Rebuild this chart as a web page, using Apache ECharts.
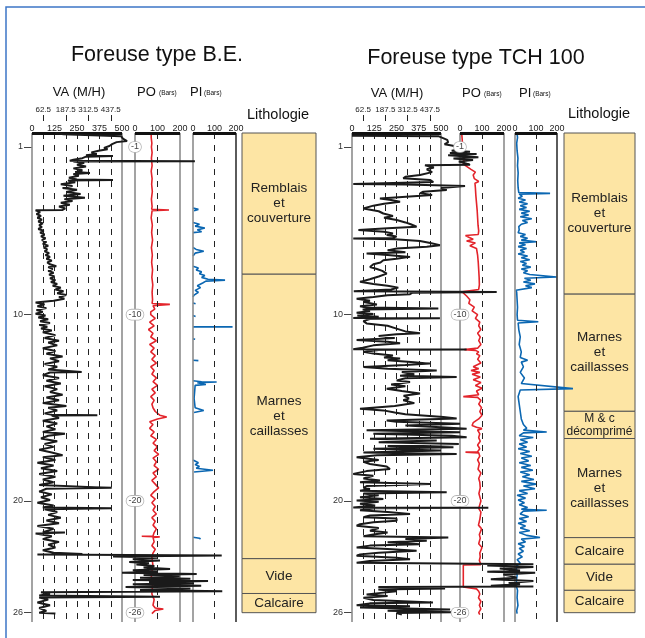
<!DOCTYPE html>
<html><head><meta charset="utf-8">
<script src="https://cdn.jsdelivr.net/npm/echarts@6/dist/echarts.min.js"></script>
<style>html,body{margin:0;padding:0;background:#fff}#c{width:645px;height:638px}</style>
</head><body><div id="c"></div>
<script>
// ---------------- DATA ----------------
const depthTicks = [1, 10, 20, 26];
const vaTicks = [0, 125, 250, 375, 500];
const vaHalfTicks = [62.5, 187.5, 312.5, 437.5];
const vaDashes = [62.5, 125, 187.5, 250, 312.5, 375, 437.5];
const barTicks = [0, 100, 200];
const barDashes = [100];

// [depth (m), value]
const vaLeft = [[0.25,130],[0.32,175],[0.42,495],[0.55,505],[0.68,528],[0.74,470],[0.85,445],[0.95,430],[1.05,400],[1.12,420],[1.2,370],[1.3,330],[1.38,360],[1.45,300],[1.48,450],[1.52,300],[1.6,280],[1.68,230],[1.74,210],[1.76,905],[1.78,230],[1.85,290],[1.95,250],[2.05,300],[2.15,230],[2.25,280],[2.35,240],[2.4,322],[2.45,230],[2.55,260],[2.65,205],[2.74,250],[2.77,450],[2.8,200],[2.9,240],[3.0,160],[3.1,225],[3.2,170],[3.3,250],[3.42,190],[3.52,270],[3.62,175],[3.72,294],[3.8,180],[3.9,225],[4.0,160],[4.1,210],[4.2,150],[4.3,185],[4.38,170],[4.4,20],
[4.5,45],[4.6,25],[4.7,50],[4.8,30],[4.9,55],[5.0,35],[5.1,60],[5.2,40],[5.3,55],[5.4,35],[5.5,65],[5.6,45],[5.7,70],[5.8,50],[5.9,75],[6.0,55],[6.1,80],[6.2,60],[6.3,90],[6.4,65],[6.5,85],[6.6,70],[6.7,95],[6.8,75],[6.9,100],[7.0,80],[7.1,110],[7.2,85],[7.3,100],[7.4,135],[7.45,90],[7.55,115],[7.65,90],[7.75,120],[7.85,95],[7.95,125],[8.05,100],[8.15,130],[8.25,105],[8.35,140],[8.45,115],[8.55,160],[8.65,130],[8.75,175],[8.85,140],[8.95,190],[9.05,150],[9.15,180],[9.25,120],[9.35,20],
[9.45,70],[9.55,30],[9.65,80],[9.75,25],[9.85,60],[9.95,20],[10.05,75],[10.15,35],[10.25,90],[10.35,45],[10.45,100],[10.55,40],[10.65,85],[10.75,50],[10.85,110],[10.95,60],
[11.1,130],[11.25,70],[11.4,150],[11.5,90],[11.65,140],[11.8,60],[11.95,130],[12.1,80],[12.25,170],[12.35,100],[12.5,150],[12.65,70],[12.8,140],[12.95,90],[13.05,100],[13.08,276],[13.11,100],[13.25,60],[13.4,150],[13.55,80],[13.7,160],[13.85,70],[14.0,140],[14.15,100],[14.3,170],[14.45,80],[14.6,150],[14.75,60],[14.9,191],[15.0,90],[15.15,140],[15.3,70],[15.38,110],[15.4,363],[15.42,110],[15.55,150],[15.7,60],[15.85,140],[16.0,80],[16.15,130],[16.3,60],[16.4,183],[16.5,90],[16.65,50],[16.8,140],[16.95,70],[17.1,120],[17.25,40],[17.4,110],[17.55,170],[17.65,60],[17.8,130],[17.95,30],[18.1,120],[18.25,50],[18.4,140],[18.55,40],[18.7,130],[18.85,60],[19.0,120],[19.15,40],[19.3,443],[19.35,80],[19.5,40],[19.65,110],[19.8,50],[19.95,100],[20.1,30],[20.25,120],[20.35,60],[20.4,443],[20.45,70],[20.6,140],[20.75,90],[20.9,160],[21.05,80],[21.2,150],[21.35,30],[21.5,120],[21.68,60],[21.7,183],[21.75,20],[21.9,110],[22.05,60],[22.2,150],[22.35,90],[22.5,130],[22.65,60],[22.78,120],[22.85,280],[22.88,30],[22.93,1054],[22.98,450],
[23.05,700],[23.12,560],[23.2,711],[23.28,540],[23.35,650],[23.42,580],[23.5,680],[23.58,620],[23.65,767],[23.72,560],[23.8,700],[23.86,500],[23.92,915],[23.98,620],[24.05,820],[24.12,600],[24.18,880],[24.24,560],[24.3,978],[24.36,650],[24.42,900],[24.48,560],[24.55,940],[24.62,520],[24.7,880],[24.78,600],[24.85,1057],[24.9,50],[25.0,100],[25.08,40],[25.14,711],[25.18,40],[25.3,90],[25.45,30],[25.6,100],[25.75,40],[25.9,80],[26.0,40],[26.05,130]];

const poLeft = [[0.25,5],[0.28,72],[0.5,72],[0.8,75],[1.0,73],[1.3,76],[1.6,73],[2.0,76],[2.3,72],[2.7,76],[3.0,74],[3.4,77],[3.8,73],[4.2,76],[4.34,74],[4.38,151],[4.42,76],[4.8,72],[5.2,77],[5.6,74],[6.0,78],[6.4,73],[6.8,77],[7.2,74],[7.6,78],[8.0,75],[8.4,79],[8.8,76],[9.2,78],[9.4,76],[9.45,155],[9.52,80],[9.7,88],[9.85,70],[10.0,70],[10.2,90],[10.4,65],[10.6,85],[10.8,60],[11.0,80],[11.2,70],[11.4,95],[11.6,65],[11.8,85],[12.0,70],[12.2,90],[12.4,75],[12.6,95],[12.8,70],[13.0,85],[13.2,75],[13.4,95],[13.6,80],[13.8,100],[14.0,75],[14.2,90],[14.4,70],[14.6,85],[14.8,75],[15.0,80],[15.2,90],[15.4,110],[15.5,141],[15.6,100],[15.75,65],[15.9,80],[16.1,65],[16.3,85],[16.5,70],[16.7,95],[16.9,80],[17.1,100],[17.3,85],[17.5,105],[17.7,80],[17.9,95],[18.1,85],[18.3,105],[18.5,80],[18.7,95],[18.9,75],[19.1,90],[19.3,105],[19.5,85],[19.7,70],[19.9,90],[20.1,75],[20.3,90],[20.5,80],[20.7,95],[20.9,75],[21.1,90],[21.3,80],[21.5,95],[21.7,85],[21.88,80],[21.9,30],[21.93,110],[21.96,80],[22.2,85],[22.4,75],[22.6,90],[22.8,80],[23.0,75],[23.5,80],[24.0,72],[24.5,78],[25.0,75],[25.3,85],[25.6,80],[25.75,90],[25.8,126],[25.88,90],[26.05,75]];

const piLeft = [[4.28,0],[4.35,25],[4.42,5],[4.43,null],
[5.05,0],[5.15,30],[5.25,10],[5.35,55],[5.45,20],[5.55,40],[5.6,0],[5.61,null],
[6.4,0],[6.5,15],[6.6,50],[6.7,10],[6.85,0],[6.86,null],
[7.4,0],[7.5,25],[7.6,15],[7.7,40],[7.8,30],[7.9,55],[8.0,40],[8.1,70],[8.15,149],[8.2,60],[8.3,45],[8.45,20],[8.55,35],[8.7,10],[8.8,25],[8.95,5],[9.05,0],[9.06,null],
[9.38,0],[9.42,12],[9.43,null],
[10.05,0],[10.1,12],[10.11,null],
[10.66,0],[10.66,184],[10.67,null],
[11.3,0],[11.32,10],[11.33,null],
[12.45,0],[12.47,25],[12.48,null],
[13.55,0],[13.6,40],[13.62,110],[13.65,20],[13.75,60],[13.8,10],[13.9,5],[14.5,5],[15.0,10],[15.15,50],[15.25,5],[15.26,null],
[17.8,0],[17.95,25],[18.05,10],[18.15,30],[18.25,15],[18.35,93],[18.45,5],[18.46,null],
[21.95,0],[22.0,30],[22.05,35]];

const vaRight = [[0.4,0],[0.42,485],[0.62,535],[0.75,540],[0.85,520],[0.92,560],[1.0,600],[1.1,620],[1.2,560],[1.25,663],[1.32,550],[1.38,700],[1.45,540],[1.55,710],[1.62,570],[1.7,680],[1.78,600],[1.88,640],[1.96,663],[1.98,410],[2.1,460],[2.2,420],[2.35,450],[2.5,382],[2.6,300],[2.68,288],[2.77,438],[2.88,457],[2.97,460],[2.99,7],[3.02,300],[3.1,635],[3.2,500],[3.31,532],[3.4,400],[3.49,382],[3.58,450],[3.66,460],[3.76,157],[3.85,220],[3.94,270],[4.05,180],[4.15,120],[4.3,64],[4.45,150],[4.57,176],[4.7,230],[4.8,180],[4.92,251],[5.05,300],[5.15,330],[5.28,363],[5.36,200],[5.46,36],[5.55,180],[5.65,230],[5.73,195],[5.8,251],[5.88,230],[5.91,7],[5.95,240],[6.05,382],[6.15,440],[6.27,494],[6.35,420],[6.45,251],[6.55,200],[6.65,300],[6.72,82],[6.8,200],[6.9,326],[7.0,250],[7.08,176],[7.2,160],[7.3,120],[7.44,101],[7.55,140],[7.65,170],[7.8,195],[7.95,150],[8.1,100],[8.24,45],[8.35,120],[8.45,200],[8.55,260],[8.65,220],[8.75,10],[8.78,813],[8.82,340],[8.9,326],[8.96,200],[9.05,120],[9.15,26],[9.25,101],[9.32,64],[9.45,140],[9.55,45],[9.62,80],[9.67,485],[9.72,60],[9.8,101],[9.9,26],[9.96,120],[10.05,30],[10.12,150],[10.18,7],[10.2,494],[10.24,100],[10.35,64],[10.47,82],[10.6,200],[10.75,250],[10.9,300],[11.0,382],[11.05,250],[11.15,150],[11.25,240],[11.36,26],[11.45,200],[11.54,270],[11.65,120],[11.78,60],[11.86,7],[11.87,644],[11.9,150],[12.0,64],[12.09,120],[12.2,230],[12.3,180],[12.36,270],[12.45,200],[12.55,350],[12.63,438],[12.7,300],[12.81,64],[12.9,200],[13.0,476],[13.08,280],[13.2,350],[13.28,270],[13.35,588],[13.42,300],[13.53,251],[13.62,326],[13.75,220],[13.85,300],[13.98,195],[14.1,280],[14.24,382],[14.35,290],[14.5,320],[14.6,288],[14.75,350],[14.9,240],[15.05,45],[15.14,176],[15.25,240],[15.35,300],[15.5,513],[15.58,588],[15.68,195],[15.75,250],[15.86,607],[15.95,300],[16.05,500],[16.13,644],[16.2,82],[16.31,607],[16.4,120],[16.5,560],[16.58,644],[16.66,101],[16.76,476],[16.85,150],[16.95,600],[17.05,200],[17.12,570],[17.2,120],[17.3,500],[17.4,64],[17.48,588],[17.55,140],[17.66,26],[17.8,150],[17.9,64],[18.02,101],[18.15,195],[18.29,213],[18.4,82],[18.55,7],[18.65,120],[18.8,64],[18.91,157],[19.0,45],[19.09,438],[19.2,82],[19.3,64],[19.36,101],[19.45,45],[19.54,532],[19.6,64],[19.7,150],[19.8,45],[19.9,176],[19.98,26],[20.05,150],[20.15,45],[20.25,130],[20.35,7],[20.37,766],[20.4,130],[20.5,45],[20.6,200],[20.7,326],[20.78,101],[20.88,64],[20.95,250],[21.06,251],[21.15,120],[21.25,45],[21.33,26],[21.45,150],[21.6,101],[21.7,200],[21.8,120],[21.9,64],[21.96,541],[22.05,300],[22.14,420],[22.22,200],[22.32,382],[22.4,100],[22.5,26],[22.58,200],[22.68,363],[22.78,150],[22.87,45],[22.95,26],[23.05,250],[23.13,326],[23.22,100],[23.32,26],[23.38,26],[23.4,1019],[23.47,760],[23.55,1019],[23.63,830],[23.73,944],[23.8,760],[23.85,1029],[23.95,850],[24.05,900],[24.12,925],[24.2,780],[24.3,1019],[24.4,880],[24.48,944],[24.55,780],[24.6,1019],[24.62,148],[24.7,523],[24.75,148],[24.85,250],[24.95,150],[25.02,82],[25.1,200],[25.2,64],[25.32,120],[25.45,455],[25.5,100],[25.6,26],[25.65,326],[25.72,45],[25.83,551],[25.9,200],[25.98,562],[26.02,250],[26.1,280]];

const poRight = [[0.27,108],[0.3,8],[0.6,10],[1.0,12],[1.3,15],[1.6,20],[1.9,15],[2.0,25],[2.2,50],[2.35,70],[2.5,60],[2.7,65],[2.85,85],[2.95,68],[3.2,70],[3.6,72],[4.0,75],[4.4,78],[4.8,80],[5.2,82],[5.5,85],[5.7,83],[5.75,25],[5.85,40],[5.95,60],[6.05,30],[6.15,70],[6.3,45],[6.45,75],[6.8,80],[7.2,83],[7.6,85],[8.0,87],[8.4,88],[8.65,85],[8.78,10],[8.88,12],[9.0,30],[9.2,45],[9.4,40],[9.6,65],[9.8,55],[10.0,80],[10.2,70],[10.4,90],[10.6,85],[10.8,95],[11.0,80],[11.2,92],[11.4,85],[11.6,95],[11.8,80],[11.88,20],[11.92,70],[12.0,85],[12.1,75],[12.2,90],[12.4,80],[12.6,95],[12.8,60],[12.9,85],[13.0,50],[13.1,90],[13.2,55],[13.35,92],[13.5,60],[13.65,95],[13.8,70],[13.95,100],[14.1,75],[14.3,85],[14.4,15],[14.44,80],[14.6,95],[14.8,85],[15.0,98],[15.2,90],[15.4,100],[15.6,85],[15.8,60],[15.95,55],[16.05,75],[16.12,100],[16.2,80],[16.4,90],[16.6,85],[16.8,92],[17.0,80],[17.2,90],[17.36,80],[17.38,25],[17.42,85],[17.6,90],[17.8,80],[18.0,88],[18.3,82],[18.5,95],[18.8,85],[19.0,90],[19.3,92],[19.6,86],[20.0,95],[20.4,85],[20.6,95],[21.0,90],[21.3,84],[21.5,98],[21.8,88],[22.0,92],[22.3,85],[22.5,100],[22.8,90],[23.0,92],[23.2,88],[23.42,95],[23.44,15],[24.62,15],[24.72,75],[24.85,85],[25.0,90],[25.2,84],[25.4,95],[25.6,88],[25.8,95],[26.0,85],[26.1,90]];

const piRight = [[0.25,35],[0.28,10],[0.5,12],[0.8,8],[1.2,10],[1.6,14],[2.0,12],[2.4,15],[2.8,13],[3.2,15],[3.45,18],[3.49,167],[3.53,20],[3.65,35],[3.75,15],[3.85,50],[3.95,20],[4.05,60],[4.15,25],[4.25,55],[4.35,20],[4.45,70],[4.55,30],[4.65,65],[4.75,25],[4.85,80],[4.95,35],[5.05,60],[5.15,30],[5.28,18],[5.45,20],[5.6,15],[5.7,50],[5.8,25],[5.9,60],[6.0,30],[6.09,103],[6.15,20],[6.25,50],[6.35,15],[6.45,55],[6.55,25],[6.65,45],[6.75,15],[6.85,60],[6.95,30],[7.05,70],[7.15,25],[7.25,55],[7.35,35],[7.45,75],[7.55,30],[7.65,60],[7.75,40],[7.85,70],[7.98,198],[8.05,45],[8.15,75],[8.25,40],[8.35,95],[8.45,50],[8.55,80],[8.69,5],[8.8,8],[9.2,10],[9.6,12],[10.0,10],[10.3,12],[10.38,111],[10.45,15],[10.8,18],[11.2,25],[11.6,20],[12.0,30],[12.3,25],[12.45,60],[12.55,30],[12.8,40],[13.1,25],[13.4,45],[13.7,30],[13.97,276],[14.05,25],[14.4,15],[14.8,20],[15.2,25],[15.6,30],[15.9,40],[16.1,56],[16.2,40],[16.3,151],[16.35,40],[16.5,20],[16.6,87],[16.7,25],[16.85,60],[16.95,20],[17.1,55],[17.2,15],[17.35,70],[17.45,25],[17.6,80],[17.7,30],[17.85,65],[17.95,20],[18.1,75],[18.2,30],[18.35,85],[18.45,25],[18.6,70],[18.7,35],[18.85,90],[18.95,30],[19.1,100],[19.2,40],[19.35,95],[19.45,20],[19.6,60],[19.7,10],[19.85,50],[19.95,15],[20.1,45],[20.2,20],[20.35,60],[20.45,30],[20.5,151],[20.55,40],[20.7,25],[20.85,65],[20.95,20],[21.1,55],[21.2,15],[21.35,50],[21.45,25],[21.6,70],[21.7,20],[21.85,55],[21.96,119],[22.05,30],[22.2,50],[22.3,15],[22.45,45],[22.55,20],[22.7,40],[22.85,15],[23.0,35],[23.15,10],[23.35,25],[23.5,5],[24.0,10],[24.5,5],[24.8,12],[25.2,10],[25.6,14],[25.9,8],[26.05,10]];

// lithology: top, bottom, name
const lithLeftTop = [0.25, 7.83, 23.1, 24.97];
const lithLeftBottom = [7.83, 23.1, 24.97, 26.0];
const lithLeftName = ['Remblais\net\ncouverture', 'Marnes\net\ncaillasses', 'Vide', 'Calcaire'];
const lithRightTop = [0.25, 8.9, 15.19, 16.65, 21.97, 23.4, 24.8];
const lithRightBottom = [8.9, 15.19, 16.65, 21.97, 23.4, 24.8, 26.0];
const lithRightName = ['Remblais\net\ncouverture', 'Marnes\net\ncaillasses', 'M & c\ndécomprimé', 'Marnes\net\ncaillasses', 'Calcaire', 'Vide', 'Calcaire'];

// ---------------- CHART ----------------
const FONT = "'Liberation Sans', Arial, Helvetica, sans-serif";
const Y_MIN = 0.25, Y_MAX = 26.5;
const GT = 133, GH = 489;

// px = width of the nominal scale; ext = drawable width (curves run past the track, like the original)
const tracks = [
  {kind:'va', left:32, px:90, ext:208, nom:500, data:vaLeft, color:'#1a1a1a'},
  {kind:'po', left:135, px:45, ext:45, nom:200, data:poLeft, color:'#e3242b'},
  {kind:'pi', left:193, px:43, ext:43, nom:200, data:piLeft, color:'#0b67b2'},
  {kind:'lith', left:242, px:74, top:lithLeftTop, bottom:lithLeftBottom, names:lithLeftName},
  {kind:'va', left:352, px:89, ext:208, nom:500, data:vaRight, color:'#1a1a1a'},
  {kind:'po', left:460, px:44, ext:44, nom:200, data:poRight, color:'#e3242b'},
  {kind:'pi', left:515, px:42, ext:63, nom:200, data:piRight, color:'#0b67b2'},
  {kind:'lith', left:564, px:71, top:lithRightTop, bottom:lithRightBottom, names:lithRightName}
];

const grid = [], xAxis = [], yAxis = [], series = [];
const lbl = {fontSize:9, color:'#222', fontFamily:FONT};

tracks.forEach((t, i) => {
  const w = t.kind === 'lith' ? t.px : t.ext;
  grid.push({left:t.left, top:GT, width:w, height:GH, containLabel:false, outerBoundsMode:'none'});
  const ybase = {gridIndex:i, type:'value', min:Y_MIN, max:Y_MAX, inverse:true};
  if (t.kind === 'va') {
    yAxis.push(Object.assign({}, ybase, {
      show:true, axisLine:{show:false}, splitLine:{show:false},
      axisTick:{show:true, customValues:depthTicks, length:8, lineStyle:{color:'#444', width:1}},
      axisLabel:Object.assign({customValues:depthTicks, margin:9}, lbl, {color:'#333'})
    }));
  } else if (t.kind === 'po') {
    yAxis.push(Object.assign({}, ybase, {
      show:true, z:20, axisLine:{show:false}, axisTick:{show:false}, splitLine:{show:false},
      axisLabel:Object.assign({customValues:depthTicks, margin:0, align:'center',
        formatter:v => '-' + v, backgroundColor:'#fff', borderColor:'#b5b5b5', borderWidth:0.8,
        borderRadius:6, padding:[1,2,0,2]}, lbl, {color:'#444'})
    }));
  } else {
    yAxis.push(Object.assign({}, ybase, {show:false}));
  }

  if (t.kind === 'lith') {
    const xi = xAxis.length;
    xAxis.push({gridIndex:i, type:'value', min:0, max:1, show:false});
    const names = t.names;
    series.push({
      type:'custom', xAxisIndex:xi, yAxisIndex:i, z:2, animation:false, silent:true,
      data:t.top.map((d, j) => [0, d, t.bottom[j], j]),
      encode:{x:0, y:[1,2]},
      renderItem:(params, api) => {
        const p0 = api.coord([0, api.value(1)]);
        const p1 = api.coord([1, api.value(2)]);
        const name = names[api.value(3)];
        const small = name.indexOf('M & c') === 0;
        return {type:'group', children:[
          {type:'rect', shape:{x:p0[0], y:p0[1], width:p1[0]-p0[0], height:p1[1]-p0[1]},
           style:{fill:'#fde5a4', stroke:'#555', lineWidth:1}},
          {type:'text', x:(p0[0]+p1[0])/2, y:(p0[1]+p1[1])/2,
           style:{text:name, align:'center', verticalAlign:'middle', textAlign:'center', textVerticalAlign:'middle',
             fontSize: small ? 12 : 13.5, lineHeight: small ? 13 : 15, fontFamily:FONT, fill:'#222'}}
        ]};
      }
    });
    return;
  }

  const axMax = t.nom * t.ext / t.px;
  const xi = xAxis.length;
  xAxis.push({gridIndex:i, type:'value', position:'top', min:0, max:axMax,
    axisLine:{show:false}, axisTick:{show:false}, splitLine:{show:false},
    axisLabel:Object.assign({customValues: t.kind === 'va' ? vaTicks : barTicks, margin:0,
      showMinLabel:true, showMaxLabel:true}, lbl)});
  if (t.kind === 'va') {
    xAxis.push({gridIndex:i, type:'value', position:'top', offset:12, min:0, max:axMax,
      axisLine:{show:false}, splitLine:{show:false},
      axisTick:{show:true, customValues:vaHalfTicks, length:6, lineStyle:{color:'#222', width:1}},
      axisLabel:Object.assign({customValues:vaHalfTicks, margin:7}, lbl, {fontSize:8})});
  }
  const dashes = t.kind === 'va' ? vaDashes : barDashes;
  const mk = [];
  mk.push({xAxis:0, lineStyle:{color:'#8c8c8c', width:1.6, type:'solid'}});
  mk.push({xAxis:t.nom, lineStyle:{color: t.kind === 'pi' ? '#333' : '#8c8c8c', width:1.6, type:'solid'}});
  dashes.forEach(v => mk.push({xAxis:v, lineStyle:{color:'#222', width:1, type:[6,6]}}));
  mk.push([{coord:[0, Y_MIN], lineStyle:{color:'#111', width:3, type:'solid'}}, {coord:[t.nom, Y_MIN]}]);

  series.push({
    type:'line', xAxisIndex:xi, yAxisIndex:i, symbol:'none', animation:false, silent:true,
    z: t.kind === 'va' ? 6 : (t.kind === 'po' ? 4 : 3),
    data:t.data.map(p => p[1] === null ? ['-', p[0]] : [p[1], p[0]]),
    lineStyle:{color:t.color, width: t.kind === 'va' ? 2 : 1.6},
    markLine:{silent:true, symbol:'none', animation:false, label:{show:false}, data:mk}
  });
});

function txt(text, x, y, size, align) {
  return {type:'text', x:x, y:y, silent:true,
    style:{text:text, fontSize:size, fontFamily:FONT, fill:'#111', textAlign:align || 'center',
      textVerticalAlign:'middle', align:align || 'center', verticalAlign:'middle'}};
}

const graphic = [
  {type:'polyline', silent:true, shape:{points:[[6,640],[6,7],[646,7]]}, style:{stroke:'#3d76c6', lineWidth:1.5, fill:null}},
  txt('Foreuse type B.E.', 157, 55, 21.5),
  txt('Foreuse type TCH 100', 476, 58, 21.5),
  txt('VA (M/H)', 79, 92, 13),
  txt('PO', 137, 92, 13, 'left'), txt('(Bars)', 159, 93, 6.5, 'left'),
  txt('PI', 190, 92, 13, 'left'), txt('(Bars)', 204, 93, 6.5, 'left'),
  txt('Lithologie', 278, 115, 14.5),
  txt('VA (M/H)', 397, 93, 13),
  txt('PO', 462, 93, 13, 'left'), txt('(Bars)', 484, 94, 6.5, 'left'),
  txt('PI', 519, 93, 13, 'left'), txt('(Bars)', 533, 94, 6.5, 'left'),
  txt('Lithologie', 599, 114, 14.5)
];

const chart = echarts.init(document.getElementById('c'), null, {renderer:'canvas'});
chart.setOption({animation:false, backgroundColor:'#fff', grid, xAxis, yAxis, series, graphic});
</script></body></html>
